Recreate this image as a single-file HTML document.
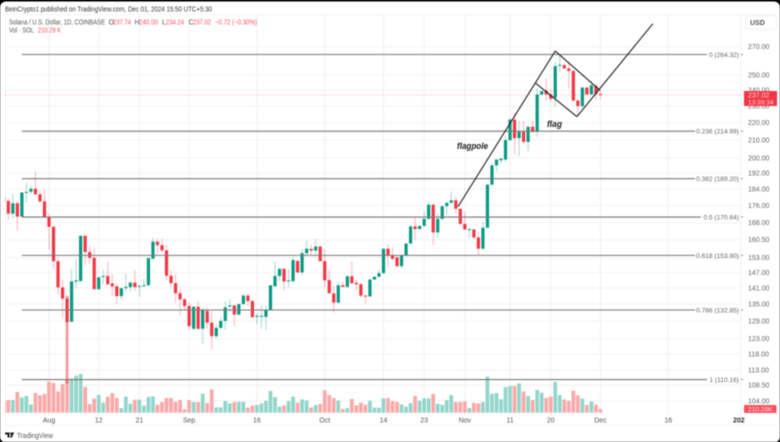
<!DOCTYPE html>
<html lang="en">
<head>
<meta charset="utf-8">
<title>Solana / U.S. Dollar chart</title>
<style>
html,body{margin:0;padding:0;background:#000;width:780px;height:442px;overflow:hidden}
svg{display:block;filter:blur(.5px)}
text{font-family:"Liberation Sans",sans-serif}
</style>
</head>
<body>
<svg id="chart" xmlns="http://www.w3.org/2000/svg" width="780" height="442" viewBox="0 0 780 442">
  <defs><clipPath id="plot-clip"><rect x="5" y="14" width="736" height="402"/></clipPath></defs>
  <rect x="0" y="1.5" width="780" height="441" rx="6" fill="#fff"/>
  <g id="grid"></g>
  <g id="volume" clip-path="url(#plot-clip)"></g>
  <line id="last-line" x1="5" x2="741" stroke="#f7a0a8" stroke-width="1" stroke-dasharray="1 2"/>
  <g id="candles" clip-path="url(#plot-clip)"></g>
  <g id="fib"></g>
  <g id="drawings"></g>
  <text x="457" y="149" font-size="9" font-style="italic" font-weight="bold" fill="#222" textLength="31" lengthAdjust="spacingAndGlyphs">flagpole</text>
  <text x="547" y="127" font-size="9" font-style="italic" font-weight="bold" fill="#222" textLength="15" lengthAdjust="spacingAndGlyphs">flag</text>

  <g id="price-axis"></g>
  <g id="time-axis"></g>

  <rect x="745.5" y="16" width="31" height="13" rx="2" fill="#fff" stroke="#eceff2" stroke-width="1"/>
  <text x="750" y="25" font-size="7" font-weight="bold" fill="#555">USD</text>

  <rect x="744" y="91" width="33" height="15" fill="#f23645"/>
  <text x="748" y="97.5" font-size="7" fill="#ffd0d4">237.02</text>
  <text x="748" y="104.5" font-size="6.6" fill="#ffd0d4">13:39:34</text>
  <rect x="744" y="405" width="32.5" height="8" rx="1" fill="#f7525f"/>
  <text x="748" y="411.5" font-size="6.6" fill="#ffd9dc">210.29K</text>

  <text x="5" y="11.5" font-size="7.2" fill="#333" textLength="207" lengthAdjust="spacingAndGlyphs">BeinCrypto1 published on TradingView.com, Dec 01, 2024 15:50 UTC+5:30</text>
  <text x="9" y="24.5" font-size="7.2" fill="#555" textLength="96" lengthAdjust="spacingAndGlyphs">Solana / U.S. Dollar, 1D, COINBASE</text>
  <text x="108.5" y="24.5" font-size="7.2" fill="#555">O</text>
  <text x="113" y="24.5" font-size="7.2" fill="#f7525f" textLength="18" lengthAdjust="spacingAndGlyphs">237.74</text>
  <text x="134.5" y="24.5" font-size="7.2" fill="#555">H</text>
  <text x="139" y="24.5" font-size="7.2" fill="#f7525f" textLength="19" lengthAdjust="spacingAndGlyphs">240.00</text>
  <text x="162" y="24.5" font-size="7.2" fill="#555">L</text>
  <text x="166" y="24.5" font-size="7.2" fill="#f7525f" textLength="18" lengthAdjust="spacingAndGlyphs">234.24</text>
  <text x="188.5" y="24.5" font-size="7.2" fill="#555">C</text>
  <text x="193" y="24.5" font-size="7.2" fill="#f7525f" textLength="18" lengthAdjust="spacingAndGlyphs">237.02</text>
  <text x="215" y="24.5" font-size="7.2" fill="#f7525f" textLength="42" lengthAdjust="spacingAndGlyphs">−0.72 (−0.30%)</text>
  <text x="9" y="32.5" font-size="7.2" fill="#555" textLength="25" lengthAdjust="spacingAndGlyphs">Vol · SOL</text>
  <text x="38" y="32.5" font-size="7.2" fill="#f7525f" textLength="23" lengthAdjust="spacingAndGlyphs">210.29 K</text>

  <g>
    <path fill="#1a1a1a" d="M5 432.5h4.5v5h-2v-3H5zM10.2 432.5h4l-2.4 5h-1.9l1.3-3h-1z"/>
    <text x="17" y="438" font-size="7.4" fill="#555" textLength="36" lengthAdjust="spacingAndGlyphs">TradingView</text>
  </g>
</svg>

<script>
// Day offsets are counted from 1 Aug 2024; the series begins at firstDay.
const firstDay = -10;
const opens = [
179.9,178.2,172.2,177.1,170.8,182.1,182.7,184.1,181.4,178,
170.8,166.2,151.5,141.2,137,128.7,143.4,143.6,162.2,155.3,
152.9,140.5,145.2,145.6,142.7,141.6,137.9,140.9,141.3,143,
141.4,141.6,142,152.5,159.7,158.2,156,145.7,142.8,139,
136.7,134.3,126.3,134,126.3,132.5,128.4,123.8,126.6,129,
134.1,134.5,131.2,135,138.1,136.1,130.4,130.6,130.4,133,
141.6,145.6,148.4,143.6,143.6,151.6,147,154.8,156.6,155.9,
157.6,151.5,144,138.9,135.5,142,141.4,145.5,143,142.4,
138.1,137.8,144.2,145.3,146.7,156.7,153.9,153.1,149.5,153.9,
158.9,166.4,165.2,166.6,169.8,176.4,163.7,169.8,175.7,177.3,
178.5,174.5,167.5,165,165,161.5,156.7,165.8,186.2,196.1,
198.8,199.2,209.9,221.8,211,214.6,208.9,217.6,214.6,237.4,
240,237.4,235.2,256.4,256.9,254.6,252.9,233.5,230,241.8,
237.4,242.8,237.74];
const highs = [
183.8,179,181.8,177.9,182.4,187.4,185.8,193,183.3,183.8,
172,166.7,152.8,144.3,138.1,148.4,152.5,162.5,162.7,157.9,
156.9,145.1,147.9,151.5,146.4,142.4,140.9,146.4,143.5,147.9,
142,144.4,152.8,161.4,161,161,158.2,147.9,146.4,140.5,
137.4,135.5,134.3,135.9,133.8,133.8,132.5,127.8,130.4,136,
136.7,134.5,135,138.7,138.9,136.2,131.9,134.5,134.5,142,
151.4,149,148.7,148.4,153.1,151.9,156.5,160.3,158.4,161,
157.9,156.5,148,141.8,143.4,143.5,145.7,151.4,144.2,143.1,
138.3,144.4,145.3,147.8,156.7,158.6,157.4,153.2,154.2,158.9,
167,170.8,166.7,173.2,177.9,176.6,172,175.7,177.6,182.8,
180.2,174.6,173.2,165.4,165.3,164,168.5,186.4,197.3,199.2,
199.9,212.3,223.2,225.8,221.2,221.2,217.6,221.6,241.5,239.5,
247.8,241.1,259.2,264,258.1,259.2,253.4,234.2,242.1,242.1,
246.6,244.4,240];
const lows = [
177.4,169.4,169.9,164.4,170.7,177.4,181.3,181.3,176.9,170.3,
156.2,148.3,138.5,130.1,109,128.6,140.8,143.5,150,150.4,
140.4,140.3,142.4,142,137.8,134.9,136.6,139.7,139.7,140,
137.6,141.6,141.6,152.4,154.6,155,143.9,141.2,135.5,130.9,
133,126,126,126,121.3,126.3,119.4,122.9,126.3,126,
132.1,127.2,130.9,134.7,134.3,130.1,127.8,126.3,126,133,
141.6,143.5,140.2,141.2,143.1,146.7,146,154,154.2,154,
151.4,141.2,138.9,131.9,135.2,141.2,140.8,142.4,140,137.4,
135.1,137.7,144.2,145.1,146.4,149.5,151.8,149.2,148.7,153.6,
158.6,160.4,165,166.4,169.4,158.2,161.4,169.4,171.6,177.1,
172.4,167.2,165,161.4,161,154,156.3,165.6,185.8,193,
197.3,198,209.5,202.3,201.1,207.7,203.8,214.2,211.8,236.8,
233.5,232.4,229.8,252.2,253.9,241.1,233,223.6,229,236.9,
236.8,234.1,234.24];
const closes = [
177.9,172.2,177.1,170.8,182.3,182.6,184.1,181.4,178,170.8,
166.2,151.5,141.2,137,128.6,143.5,143.9,162.2,155.3,152.9,
140.5,145.1,145.6,142.4,141.6,137.9,140.9,141.4,143,141.3,
141.8,142,152.8,159.7,158.2,156,145.7,142.8,139,136.7,
134.3,127.2,134,126.3,133,128.4,123.8,126.6,129,133.8,
134.5,131.2,135,138.1,136.1,130.3,130.8,130.8,133,142,
145.6,148.4,143.5,143.9,152,147,154.8,156.7,155.9,157.6,
151.5,143.9,139,135.5,142,141.4,145.5,142.8,142.4,138.1,
137.8,144.2,145.3,146.7,156.7,153.9,152.5,149.5,153.9,158.9,
166.4,165.2,166.6,169.8,176.4,163.7,169.8,175.7,177.3,178.5,
174.5,167.5,165,165.2,161.5,156.7,165.8,186.2,196.1,199.2,
199.7,209.9,221.8,211,214.6,208.9,217.6,214.6,237.4,239.5,
237.4,234.6,256.2,257.1,254.6,252.9,233.5,230,241.8,237.4,
243.3,237.74,237.02];
// Volume in thousands of SOL.
const volumes = [
684,724,724,1180,872,952,473,1123,986,1066,
1767,1693,1214,1636,1864,1955,2109,2206,1465,496,
798,1009,570,912,1123,838,268,912,513,741,
741,399,895,929,456,610,838,838,627,724,
188,724,610,610,1083,553,1328,302,302,667,
530,610,627,627,285,399,439,530,684,1237,
895,342,416,667,912,570,758,701,302,439,
496,1271,1009,838,701,211,268,781,416,570,
456,684,285,285,815,838,667,610,473,342,
553,952,684,815,815,1066,513,456,724,1009,
610,610,644,268,553,530,610,2052,1083,1123,
758,1465,1522,1522,1670,1214,952,724,1294,1140,
838,912,1750,1009,758,667,1254,986,798,439,
644,456,210];
const heavyWickDays = [4];
const lastClose = 237.02;

const priceTicks = [270,250,240,230,220,210,200,192,184,176,168,160.5,153,147,141,135,129,123,118,113,108.5,104];
const timeTickLabels = ["Aug","12","21","Sep","16","Oct","14","23","Nov","11","20","Dec","16","202"];
const timeTickDays = [0,11,20,31,46,61,74,83,92,102,111,122,137,153];
const fibRatios = ["0","0.236","0.382","0.5","0.618","0.786","1"];
const fibPrices = [264.32,214.99,189.20,170.64,153.90,132.85,110.16];
const fibLabelGaps = [33,45,45,39,45,45,33];
const fibStartDay = -6;

// Drawing anchors as [day, price] pairs.
const flagpoleLine = [[90.5,175.5],[112,266.8]];
const flagUpperLine = [[112,266.8],[121.9,240]];
const flagLowerLine = [[107.7,244.6],[116.8,223.6]];
const breakoutLine = [[116.8,223.6],[133.6,287.2]];

// Axis functions
const xOfDay = d => 49 + 4.52 * d;
const yOfPrice = p => 54.5 + 371.4 * Math.log(264.32 / p);
const yOfVolume = v => 412.7 - v / 57;

const NS = 'http://www.w3.org/2000/svg';
function make(tag, parent, props, label) {
  const el = document.createElementNS(NS, tag);
  for (const k in props) el.setAttribute(k, props[k]);
  if (label !== undefined) el.textContent = label;
  parent.appendChild(el);
  return el;
}
const gGrid = document.getElementById('grid');
const gVol = document.getElementById('volume');
const gCandles = document.getElementById('candles');
const gFib = document.getElementById('fib');
const gDraw = document.getElementById('drawings');
const gPrice = document.getElementById('price-axis');
const gTime = document.getElementById('time-axis');

document.getElementById('last-line').setAttribute('y1', yOfPrice(lastClose));
document.getElementById('last-line').setAttribute('y2', yOfPrice(lastClose));

const frameTop = make('line', gGrid, {x1:5,x2:777,y1:14.5,y2:14.5,stroke:'#f4f4f4'});


const frameBottom = make('line', gGrid, {x1:5,x2:777,y1:425.5,y2:425.5,stroke:'#f4f4f4'});


const frameLeft = make('line', gGrid, {x1:5.5,x2:5.5,y1:14,y2:426,stroke:'#f4f4f4'});


const frameRight = make('line', gGrid, {x1:741,x2:741,y1:14,y2:426,stroke:'#f0f0f0'});



priceTicks.forEach(p => {
  const y = yOfPrice(p);
  const gl = make('line', gGrid, {x1:5,x2:741,y1:y,y2:y,stroke:'#f3f3f3'});
  
  
  const lbl = make('text', gPrice, {x:748,y:y+2.4,'font-size':7,fill:'#666'}, p.toFixed(2));
  
  
});

timeTickLabels.forEach((t, i) => {
  const x = xOfDay(timeTickDays[i]);
  const clipped = t === '202';
  if (!clipped) {
    const gl = make('line', gGrid, {x1:x,x2:x,y1:14,y2:416,stroke:'#f1f1f1'});
    
    
  }
  const lbl = make('text', gTime, {
    x: clipped ? 733 : x,
    y: 422.5,
    'font-size': 7,
    'text-anchor': clipped ? 'start' : 'middle',
    'font-weight': clipped ? 'bold' : 'normal',
    fill: clipped ? '#333' : '#555'
  }, t);
  
  
});

volumes.forEach((v, i) => {
  const x = xOfDay(firstDay + i);
  const up = closes[i] >= opens[i];
  const top = yOfVolume(v);
  const bar = make('rect', gVol, {x:x-1.85,y:top,width:3.7,height:yOfVolume(0)-top,fill:up?'#92d5ca':'#f9a9a9'});
  
  
});

opens.forEach((o, i) => {
  const day = firstDay + i;
  const x = xOfDay(day);
  const c = closes[i];
  const up = c >= o;
  const rgb = up ? '8,153,129' : '242,54,69';
  const heavy = heavyWickDays.includes(day);
  const wick = make('rect', gCandles, {
    x: x - (heavy ? 1.4 : 0.5),
    y: yOfPrice(highs[i]),
    width: heavy ? 2.8 : 1,
    height: yOfPrice(lows[i]) - yOfPrice(highs[i]),
    fill: `rgba(${rgb},${heavy ? 0.5 : 0.36})`
  });
  
  
  const top = yOfPrice(Math.max(o, c));
  const h = Math.max(1, yOfPrice(Math.min(o, c)) - top);
  const body = make('rect', gCandles, {x:x-1.6,y:top,width:3.2,height:h,fill:`rgb(${rgb})`});
  
  
});

fibPrices.forEach((p, i) => {
  const y = yOfPrice(p);
  const ln = make('line', gFib, {x1:xOfDay(fibStartDay),x2:740-fibLabelGaps[i],y1:y,y2:y,stroke:'#777','stroke-width':1.1});
  
  
  const lbl = make('text', gFib, {x:739,y:y+2.4,'font-size':6.6,'text-anchor':'end',fill:'#666'}, fibRatios[i] + ' (' + p.toFixed(2) + ')');
  
  
  const dash = make('line', gFib, {x1:741,x2:743,y1:y,y2:y,stroke:'#777','stroke-width':0.8});
  
  
});

const lineSet = [
  ['flagpole-line', flagpoleLine],
  ['flag-upper-line', flagUpperLine],
  ['flag-lower-line', flagLowerLine],
  ['breakout-line', breakoutLine]
];
lineSet.forEach(([label, pts]) => {
  const ln = make('line', gDraw, {
    x1: xOfDay(pts[0][0]), y1: yOfPrice(pts[0][1]),
    x2: xOfDay(pts[1][0]), y2: yOfPrice(pts[1][1]),
    stroke: '#222', 'stroke-width': 1.1
  });
  
  
});
</script>
</body>
</html>
